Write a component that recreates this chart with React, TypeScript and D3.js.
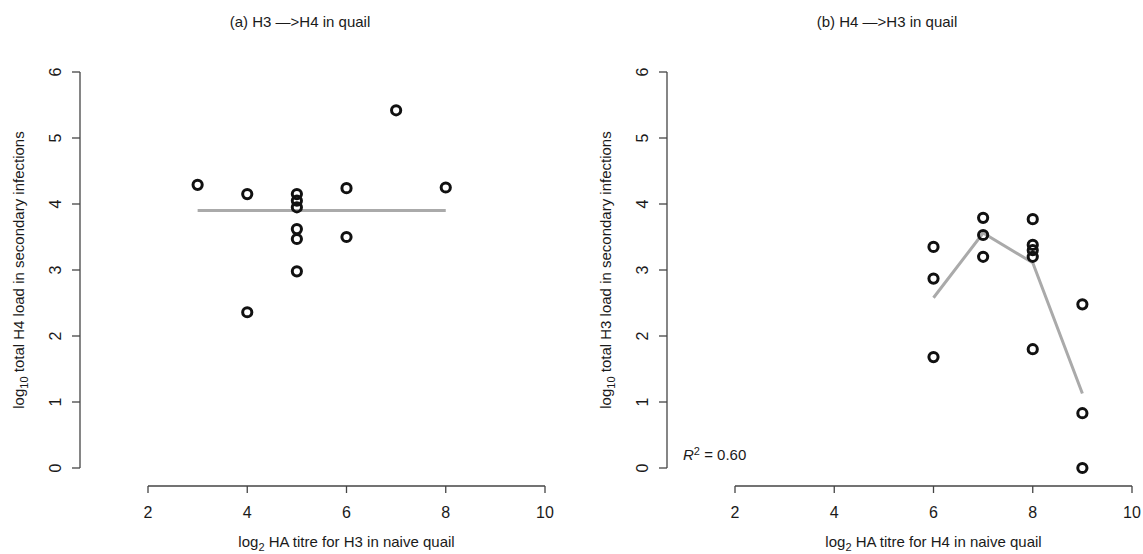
import React from 'react';
import * as d3 from 'd3';

// panel (a): H3 -> H4
const xA = [3, 4, 4, 5, 5, 5, 5, 5, 5, 6, 6, 7, 8];
const yA = [4.29, 4.15, 2.36, 4.15, 4.05, 3.95, 3.62, 3.47, 2.98, 4.24, 3.5, 5.42, 4.25];
const fitAx = [3, 8];
const fitAy = [3.9, 3.9];

// panel (b): H4 -> H3
const xB = [6, 6, 6, 7, 7, 7, 8, 8, 8, 8, 8, 9, 9, 9];
const yB = [3.35, 2.87, 1.68, 3.79, 3.53, 3.2, 3.77, 3.38, 3.3, 3.2, 1.8, 2.48, 0.83, 0.0];
const fitBx = [6, 7, 8, 9];
const fitBy = [2.58, 3.56, 3.11, 1.13];

const xTicks = [2, 4, 6, 8, 10];
const yTicks = [0, 1, 2, 3, 4, 5, 6];

const panels = [
  { title: '(a) H3 \u2014>H4 in quail', xs: xA, ys: yA, fx: fitAx, fy: fitAy,
    xlab: 'H3', ylab: 'H4', left: 80, x0: 148, x1: 545, r2: null as string | null },
  { title: '(b) H4 \u2014>H3 in quail', xs: xB, ys: yB, fx: fitBx, fy: fitBy,
    xlab: 'H4', ylab: 'H3', left: 667, x0: 735, x1: 1132, r2: '0.60' },
];

const font = 'Liberation Sans, Arial, Helvetica, sans-serif';

function Panel({ p }: { p: typeof panels[0] }) {
  const x = d3.scaleLinear().domain([2, 10]).range([p.x0, p.x1]);
  const y = d3.scaleLinear().domain([0, 6]).range([468, 72]);
  const axisY = 486;
  const line = d3.line<number>().x((d, i) => x(p.fx[i])).y(d => y(d));
  const cx = (p.x0 + p.x1) / 2;
  return (
    <g fontFamily={font} fill="#1a1a1a">
      <text x={p.x0 + 152} y={27} textAnchor="middle" fontSize={15}>{p.title}</text>

      {/* y axis */}
      <line x1={p.left} x2={p.left} y1={y(0)} y2={y(6)} stroke="#444" strokeWidth={1.3} />
      {yTicks.map(t => (
        <g key={t}>
          <line x1={p.left - 8} x2={p.left} y1={y(t)} y2={y(t)} stroke="#444" strokeWidth={1.3} />
          <text transform={`translate(${p.left - 25},${y(t)}) rotate(-90)`} textAnchor="middle"
            dy="0.36em" fontSize={16}>{t}</text>
        </g>
      ))}
      <text transform={`translate(${p.left - 56},270) rotate(-90)`} textAnchor="middle" fontSize={15}>
        log<tspan fontSize={11} dy={4}>10</tspan><tspan dy={-4}> total {p.ylab} load in secondary infections</tspan>
      </text>

      {/* x axis */}
      <line x1={x(2)} x2={x(10)} y1={axisY} y2={axisY} stroke="#444" strokeWidth={1.3} />
      {xTicks.map(t => (
        <g key={t}>
          <line x1={x(t)} x2={x(t)} y1={axisY} y2={axisY + 7} stroke="#444" strokeWidth={1.3} />
          <text x={x(t)} y={518} textAnchor="middle" fontSize={16}>{t}</text>
        </g>
      ))}
      <text x={cx} y={547} textAnchor="middle" fontSize={15}>
        log<tspan fontSize={11} dy={4}>2</tspan><tspan dy={-4}> HA titre for {p.xlab} in naive quail</tspan>
      </text>

      {/* fit */}
      <path d={line(p.fy) || ''} fill="none" stroke="#aaa" strokeWidth={3} />

      {/* points */}
      {p.xs.map((v, i) => (
        <circle key={i} cx={x(v)} cy={y(p.ys[i])} r={4.6} fill="none" stroke="#111" strokeWidth={3} />
      ))}

      {p.r2 && (
        <text x={p.left + 16} y={460} fontSize={15}>
          <tspan fontStyle="italic">R</tspan><tspan fontSize={11} dy={-5}>2</tspan>
          <tspan dy={5}> = {p.r2}</tspan>
        </text>
      )}
    </g>
  );
}

export default function App() {
  return (
    <svg width={1143} height={554} style={{ position: 'absolute', left: 0, top: 0, background: '#fff' }}>
      {panels.map((p, i) => <Panel key={i} p={p} />)}
    </svg>
  );
}
